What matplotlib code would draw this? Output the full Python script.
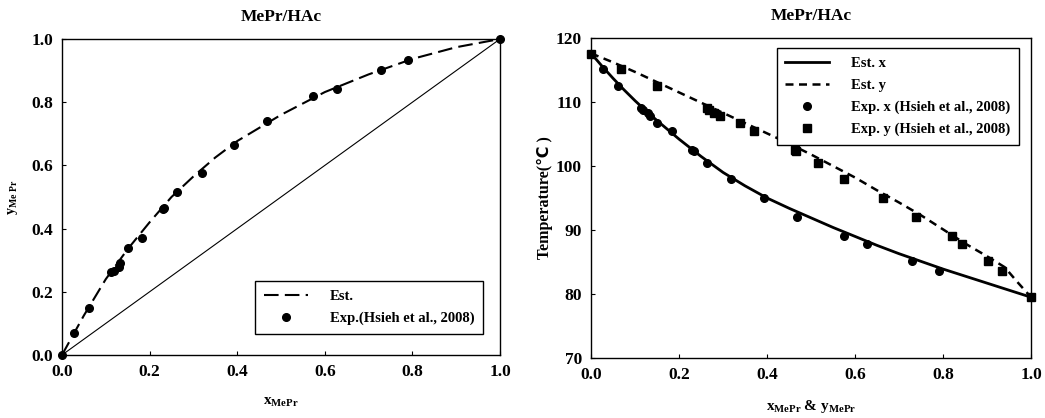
import matplotlib
matplotlib.use("Agg")
from matplotlib import pyplot as plt
from matplotlib.ticker import FormatStrFormatter

# experimental VLE data (Hsieh et al., 2008)
x_exp = [0.0, 0.028, 0.062, 0.113, 0.118, 0.130, 0.133, 0.151, 0.183, 0.230, 0.234,
         0.263, 0.319, 0.393, 0.467, 0.574, 0.628, 0.729, 0.791, 1.0]
y_exp = [0.0, 0.069, 0.150, 0.264, 0.267, 0.280, 0.292, 0.339, 0.371, 0.463, 0.466,
         0.515, 0.576, 0.664, 0.739, 0.820, 0.843, 0.903, 0.934, 1.0]
T_exp = [117.5, 115.2, 112.5, 109.0, 108.8, 108.3, 107.8, 106.7, 105.5, 102.5, 102.3,
         100.5, 98.0, 95.0, 92.0, 89.0, 87.8, 85.2, 83.6, 79.5]

# estimated x-y curve
xy_est_x = [0.0, 0.05, 0.1, 0.15, 0.2, 0.25, 0.3, 0.35, 0.4, 0.5, 0.6, 0.7, 0.8, 0.9, 1.0]
xy_est_y = [0.0, 0.125, 0.24, 0.335, 0.42, 0.50, 0.565, 0.625, 0.677, 0.76, 0.832, 0.888, 0.937, 0.974, 1.0]

# estimated T-x (bubble) curve
tx_est_x = [0.0, 0.025, 0.05, 0.075, 0.1, 0.125, 0.15, 0.2, 0.25, 0.3, 0.35, 0.4, 0.45,
            0.5, 0.55, 0.6, 0.65, 0.7, 0.75, 0.8, 0.85, 0.9, 0.95, 1.0]
tx_est_T = [117.6, 115.6, 113.7, 111.9, 110.2, 108.6, 107.1, 104.2, 101.5, 99.0, 96.9, 95.0, 93.4,
            91.9, 90.4, 89.0, 87.6, 86.3, 85.1, 83.9, 82.8, 81.7, 80.6, 79.5]

# estimated T-y (dew) curve
ty_est_y = [0.0, 0.05, 0.1, 0.15, 0.2, 0.25, 0.3, 0.35, 0.4, 0.45, 0.5, 0.55, 0.6, 0.65,
            0.7, 0.75, 0.8, 0.85, 0.9, 0.94, 0.97, 1.0]
ty_est_T = [117.6, 116.2, 114.7, 113.1, 111.5, 109.9, 108.3, 106.7, 105.1, 103.5, 101.8,
            100.0, 98.2, 96.2, 94.3, 92.3, 90.1, 87.9, 85.9, 84.2, 81.8, 79.5]

plt.rcParams['font.family'] = ['Liberation Serif', 'DejaVu Sans']
plt.rcParams['font.weight'] = 'bold'
plt.rcParams['mathtext.fontset'] = 'custom'
plt.rcParams['mathtext.rm'] = 'Liberation Serif:bold'
plt.rcParams['mathtext.bf'] = 'Liberation Serif:bold'
plt.rcParams['mathtext.it'] = 'Liberation Serif:bold'

fig = plt.figure(figsize=(10.45, 4.18), dpi=100)
ax1 = fig.add_axes([0.0593, 0.1507, 0.4192, 0.756])
ax2 = fig.add_axes([0.5656, 0.1435, 0.421, 0.7656])

# left: x-y diagram
ax1.plot([0, 1], [0, 1], color='black', linewidth=0.8)
ax1.plot(xy_est_x, xy_est_y, color='black', linewidth=1.5, dashes=(7, 3), label='Est.')
ax1.plot(x_exp, y_exp, 'o', color='black', markersize=5.5, label='Exp.(Hsieh et al., 2008)')
ax1.set_xlim(0, 1)
ax1.set_ylim(0, 1)
ax1.set_title('MePr/HAc', fontsize=12.5, fontweight='bold', pad=13)
ax1.set_xlabel(r'$\mathbf{x_{MePr}}$', fontsize=11)
ax1.set_ylabel(r'$\mathbf{y_{Me\ Pr}}$', fontsize=10)
ax1.xaxis.set_label_coords(0.5, -0.13)
ax1.yaxis.set_label_coords(-0.096, 0.5)
ax1.legend(loc='lower right', bbox_to_anchor=(0.961, 0.066), borderaxespad=0,
           fancybox=False, edgecolor='black', framealpha=1, fontsize=10.5,
           handlelength=3, handletextpad=1.5, borderpad=0.6, labelspacing=0.6)

# right: T-x-y diagram
ax2.plot(tx_est_x, tx_est_T, color='black', linewidth=2, label='Est. x')
ax2.plot(ty_est_y, ty_est_T, color='black', linewidth=1.8, dashes=(3.2, 2.2), label='Est. y')
ax2.plot(x_exp, T_exp, 'o', color='black', markersize=5.5, label='Exp. x (Hsieh et al., 2008)')
ax2.plot(y_exp, T_exp, 's', color='black', markersize=5.5, label='Exp. y (Hsieh et al., 2008)')
ax2.set_xlim(0, 1)
ax2.set_ylim(70, 120)
ax2.set_title('MePr/HAc', fontsize=12.5, fontweight='bold', pad=13)
ax2.set_xlabel(r'$\mathbf{x_{MePr}}$ & $\mathbf{y_{MePr}}$', fontsize=11, fontweight='bold')
ax2.set_ylabel('Temperature(\u2103 )', fontsize=11.5, fontweight='bold')
ax2.xaxis.set_label_coords(0.5, -0.125)
ax2.yaxis.set_label_coords(-0.086, 0.5)
ax2.legend(loc='upper right', bbox_to_anchor=(0.973, 0.969), borderaxespad=0,
           fancybox=False, edgecolor='black', framealpha=1, fontsize=10.5,
           handlelength=3, handletextpad=1.5, borderpad=0.6, labelspacing=0.6)

for ax in (ax1, ax2):
    ax.set_xticks([0.0, 0.2, 0.4, 0.6, 0.8, 1.0])
    ax.tick_params(direction='in', length=3, width=0.8, labelsize=12.5, pad=6.5)
    for lab in ax.get_xticklabels() + ax.get_yticklabels():
        lab.set_fontweight('bold')
    for sp in ax.spines.values():
        sp.set_linewidth(1)
    ax.xaxis.set_major_formatter(FormatStrFormatter('%.1f'))
ax1.set_yticks([0.0, 0.2, 0.4, 0.6, 0.8, 1.0])
ax1.yaxis.set_major_formatter(FormatStrFormatter('%.1f'))
for p in ax1.lines + ax2.lines:
    p.set_clip_on(False)

fig.savefig('out.png', dpi=100)
